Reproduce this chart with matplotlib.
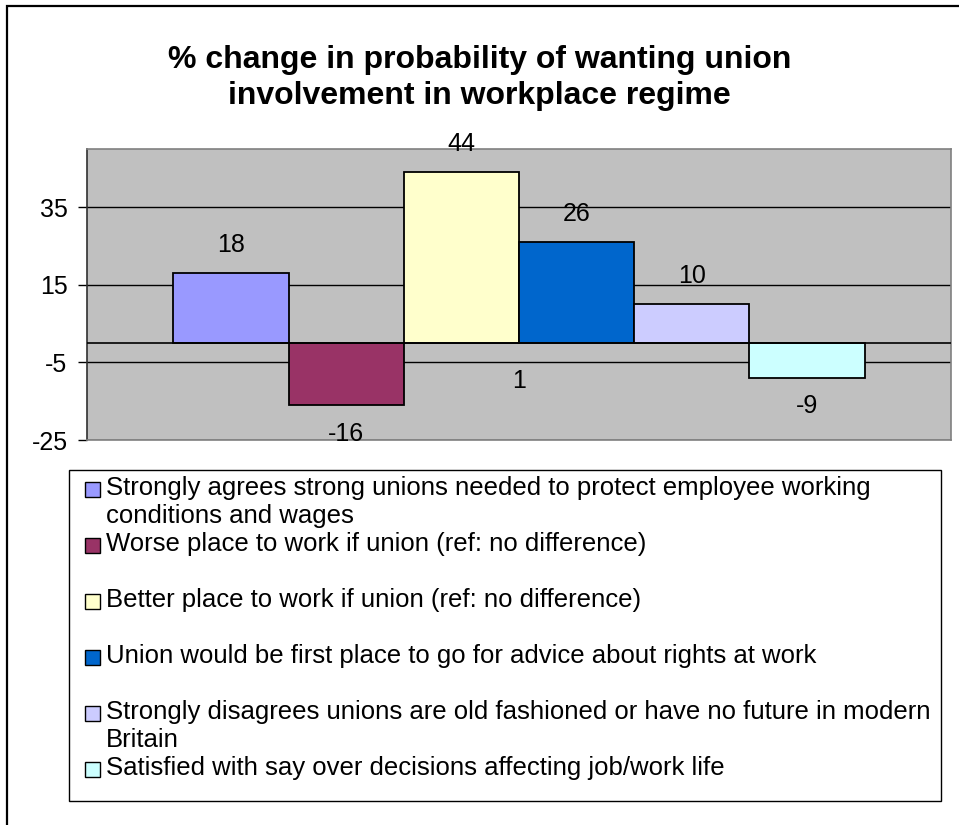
import matplotlib
matplotlib.use("Agg")
import matplotlib.pyplot as plt
from matplotlib.patches import Rectangle

plt.rcParams["font.family"] = ["Liberation Sans", "DejaVu Sans"]

# ---- data -------------------------------------------------------------
categories = [
    "Strongly agrees strong unions needed to protect employee working\nconditions and wages",
    "Worse place to work if union (ref: no difference)",
    "Better place to work if union (ref: no difference)",
    "Union would be first place to go for advice about rights at work",
    "Strongly disagrees unions are old fashioned or have no future in modern\nBritain",
    "Satisfied with say over decisions affecting job/work life",
]
values = [18, -16, 44, 26, 10, -9]
colors = ["#9999FF", "#993366", "#FFFFCC", "#0066CC", "#CCCCFF", "#CCFFFF"]
y_ticks = [-25, -5, 15, 35]
# loose data label left over in the source workbook
extra_label = "1"
extra_label_pos = (2.5, -9.7)

title_lines = ["% change in probability of wanting union",
               "involvement in workplace regime"]

W, H = 959, 825
fig = plt.figure(figsize=(W / 100, H / 100), dpi=100)
fig.patch.set_facecolor("white")


def fx(px):
    return px / W


def fy(py):
    return 1 - py / H


# outer chart border (right/bottom fall off the canvas)
fig.patches.append(Rectangle((fx(6.5), -0.05), 1.2, fy(5.5) + 0.05,
                             transform=fig.transFigure, fill=False,
                             edgecolor="black", lw=1.6))

# ---- plot area --------------------------------------------------------
ax = fig.add_axes([fx(87), fy(440), fx(951) - fx(87), fy(149) - fy(440)])
ax.set_facecolor("#C0C0C0")

x = list(range(len(values)))
ax.bar(x, values, width=1.0, color=colors, edgecolor="black", linewidth=1.3, zorder=3)
ax.set_xlim(-1.25, len(values) + 0.25)
ax.set_ylim(-25, 50)

ax.set_yticks(y_ticks)
ax.set_yticklabels([str(t) for t in y_ticks], fontsize=18)
ax.set_xticks([])
ax.tick_params(axis="y", length=6.5, width=1, color="black", pad=7.5)
ax.yaxis.grid(True, color="black", lw=1.0, zorder=1)
ax.set_axisbelow(True)
ax.axhline(0, color="black", lw=1.2, zorder=4)

for side in ["top", "right", "bottom"]:
    ax.spines[side].set_color("#808080")
    ax.spines[side].set_linewidth(1.2)
ax.spines["left"].set_color("#303030")
ax.spines["left"].set_linewidth(1.2)

for xi, v in zip(x, values):
    off = 20.5 if v >= 0 else -20.5
    ax.annotate(str(v), (xi, v), xytext=(0, off), textcoords="offset points",
                ha="center", va="center", fontsize=18, zorder=5)
ax.text(extra_label_pos[0], extra_label_pos[1], extra_label, ha="center",
        va="center", fontsize=18, zorder=5)

# ---- title ------------------------------------------------------------
for k, line in enumerate(title_lines):
    fig.text(0.5, fy(68 + k * 36), line, ha="center", va="baseline",
             fontsize=23, fontweight="bold")

# ---- legend box -------------------------------------------------------
fig.patches.append(Rectangle((fx(68.5), fy(801)), fx(940.5) - fx(68.5), fy(470) - fy(801),
                             transform=fig.transFigure, facecolor="white",
                             edgecolor="black", lw=1.0))
line_h = 28
base0 = 495
for i, (lab, c) in enumerate(zip(categories, colors)):
    base = base0 + 2 * i * line_h
    fig.patches.append(Rectangle((fx(85), fy(base + 2)), fx(100) - fx(85), fy(base - 13) - fy(base + 2),
                                 transform=fig.transFigure, facecolor=c,
                                 edgecolor="black", lw=1.0))
    for k, part in enumerate(lab.split("\n")):
        fig.text(fx(106), fy(base + k * line_h), part, ha="left", va="baseline",
                 fontsize=18.5)

fig.savefig("out.png", dpi=100)
